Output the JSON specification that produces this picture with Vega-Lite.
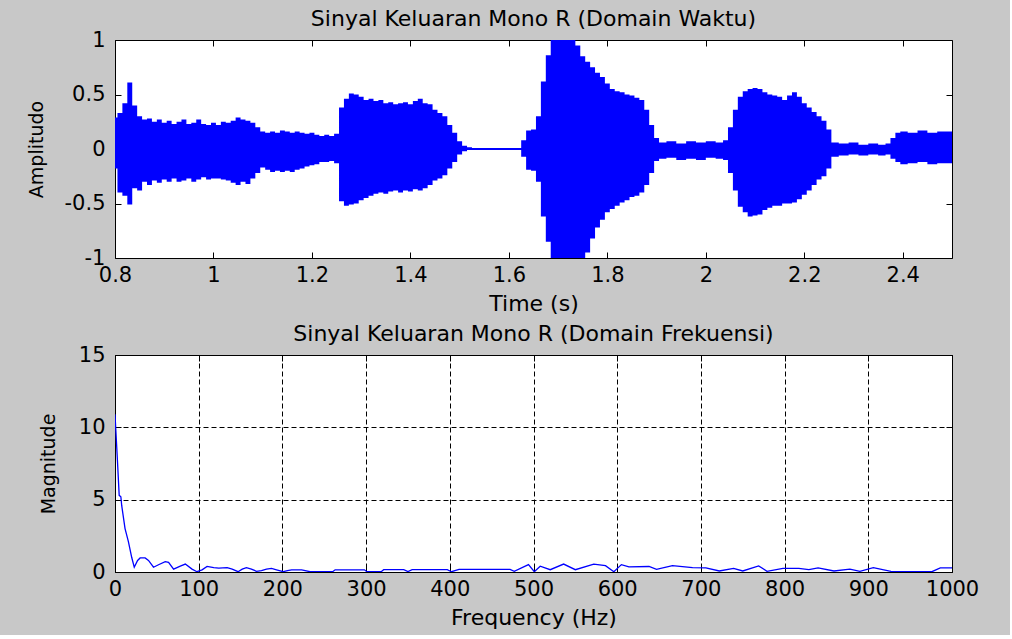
{
  "$schema": "https://vega.github.io/schema/vega-lite/v6.json",
  "background": "#c8c8c8",
  "padding": {"left": 26, "top": 7, "right": 30, "bottom": 6},
  "spacing": 7,
  "config": {
    "font": "DejaVu Sans",
    "view": {"fill": "white", "stroke": "black", "strokeWidth": 1},
    "axis": {
      "labelFont": "DejaVu Sans", "labelFontSize": 21, "labelColor": "black",
      "titleFont": "DejaVu Sans", "titleFontWeight": "normal", "titleColor": "black", "titleFontSize": 22,
      "tickColor": "black", "tickSize": -6, "tickWidth": 1, "domain": false, "grid": false,
      "labelFlush": false, "labelOverlap": false, "labelExpr": "datum.value + ''"
    },
    "title": {"font": "DejaVu Sans", "fontSize": 22, "fontWeight": "normal", "color": "black", "offset": -2}
  },
  "vconcat": [
    {
      "title": "Sinyal Keluaran Mono R (Domain Waktu)",
      "width": 837, "height": 218,
      "data": {"values": [
        {"t":0.80,"hi":0.29,"lo":-0.18},{"t":0.81,"hi":0.33,"lo":-0.40},{"t":0.82,"hi":0.42,"lo":-0.43},{"t":0.83,"hi":0.61,"lo":-0.51},
        {"t":0.84,"hi":0.40,"lo":-0.36},{"t":0.85,"hi":0.30,"lo":-0.38},{"t":0.86,"hi":0.27,"lo":-0.30},{"t":0.87,"hi":0.28,"lo":-0.33},
        {"t":0.88,"hi":0.25,"lo":-0.29},{"t":0.89,"hi":0.27,"lo":-0.31},{"t":0.90,"hi":0.24,"lo":-0.28},{"t":0.91,"hi":0.26,"lo":-0.30},
        {"t":0.92,"hi":0.23,"lo":-0.27},{"t":0.93,"hi":0.25,"lo":-0.30},{"t":0.94,"hi":0.27,"lo":-0.29},{"t":0.95,"hi":0.23,"lo":-0.27},
        {"t":0.96,"hi":0.24,"lo":-0.30},{"t":0.97,"hi":0.27,"lo":-0.28},{"t":0.98,"hi":0.23,"lo":-0.26},{"t":0.99,"hi":0.22,"lo":-0.28},
        {"t":1.00,"hi":0.24,"lo":-0.27},{"t":1.01,"hi":0.22,"lo":-0.27},{"t":1.02,"hi":0.25,"lo":-0.28},{"t":1.03,"hi":0.24,"lo":-0.29},
        {"t":1.04,"hi":0.26,"lo":-0.31},{"t":1.05,"hi":0.29,"lo":-0.33},{"t":1.06,"hi":0.27,"lo":-0.30},{"t":1.07,"hi":0.26,"lo":-0.32},
        {"t":1.08,"hi":0.24,"lo":-0.27},{"t":1.09,"hi":0.20,"lo":-0.22},{"t":1.10,"hi":0.16,"lo":-0.17},{"t":1.11,"hi":0.15,"lo":-0.19},
        {"t":1.12,"hi":0.16,"lo":-0.21},{"t":1.13,"hi":0.15,"lo":-0.20},{"t":1.14,"hi":0.17,"lo":-0.21},{"t":1.15,"hi":0.16,"lo":-0.20},
        {"t":1.16,"hi":0.15,"lo":-0.21},{"t":1.17,"hi":0.16,"lo":-0.19},{"t":1.18,"hi":0.15,"lo":-0.18},{"t":1.19,"hi":0.14,"lo":-0.16},
        {"t":1.20,"hi":0.15,"lo":-0.15},{"t":1.21,"hi":0.13,"lo":-0.14},{"t":1.22,"hi":0.12,"lo":-0.12},{"t":1.23,"hi":0.13,"lo":-0.12},
        {"t":1.24,"hi":0.12,"lo":-0.11},{"t":1.25,"hi":0.14,"lo":-0.13},{"t":1.26,"hi":0.38,"lo":-0.48},{"t":1.27,"hi":0.46,"lo":-0.52},
        {"t":1.28,"hi":0.51,"lo":-0.51},{"t":1.29,"hi":0.50,"lo":-0.50},{"t":1.30,"hi":0.48,"lo":-0.47},{"t":1.31,"hi":0.45,"lo":-0.45},
        {"t":1.32,"hi":0.46,"lo":-0.43},{"t":1.33,"hi":0.44,"lo":-0.41},{"t":1.34,"hi":0.45,"lo":-0.40},{"t":1.35,"hi":0.42,"lo":-0.41},
        {"t":1.36,"hi":0.43,"lo":-0.39},{"t":1.37,"hi":0.41,"lo":-0.38},{"t":1.38,"hi":0.42,"lo":-0.40},{"t":1.39,"hi":0.43,"lo":-0.38},
        {"t":1.40,"hi":0.41,"lo":-0.39},{"t":1.41,"hi":0.44,"lo":-0.37},{"t":1.42,"hi":0.46,"lo":-0.38},{"t":1.43,"hi":0.42,"lo":-0.36},
        {"t":1.44,"hi":0.41,"lo":-0.33},{"t":1.45,"hi":0.36,"lo":-0.29},{"t":1.46,"hi":0.33,"lo":-0.27},{"t":1.47,"hi":0.30,"lo":-0.24},
        {"t":1.48,"hi":0.22,"lo":-0.18},{"t":1.49,"hi":0.15,"lo":-0.12},{"t":1.50,"hi":0.07,"lo":-0.05},{"t":1.51,"hi":0.03,"lo":-0.02},
        {"t":1.52,"hi":0.015,"lo":-0.01},{"t":1.53,"hi":0.01,"lo":-0.01},{"t":1.56,"hi":0.01,"lo":-0.01},{"t":1.59,"hi":0.01,"lo":-0.01},
        {"t":1.62,"hi":0.01,"lo":-0.01},{"t":1.63,"hi":0.08,"lo":-0.07},{"t":1.64,"hi":0.17,"lo":-0.19},{"t":1.65,"hi":0.18,"lo":-0.20},
        {"t":1.66,"hi":0.30,"lo":-0.30},{"t":1.67,"hi":0.62,"lo":-0.62},{"t":1.68,"hi":0.86,"lo":-0.85},{"t":1.69,"hi":1.0,"lo":-1.0},
        {"t":1.70,"hi":1.0,"lo":-1.0},{"t":1.71,"hi":1.0,"lo":-1.0},{"t":1.72,"hi":1.0,"lo":-1.0},{"t":1.73,"hi":1.0,"lo":-1.0},
        {"t":1.74,"hi":0.95,"lo":-1.0},{"t":1.75,"hi":0.85,"lo":-1.0},{"t":1.76,"hi":0.80,"lo":-0.95},{"t":1.77,"hi":0.75,"lo":-0.82},
        {"t":1.78,"hi":0.70,"lo":-0.72},{"t":1.79,"hi":0.66,"lo":-0.65},{"t":1.80,"hi":0.60,"lo":-0.58},{"t":1.81,"hi":0.55,"lo":-0.55},
        {"t":1.82,"hi":0.53,"lo":-0.52},{"t":1.83,"hi":0.52,"lo":-0.49},{"t":1.84,"hi":0.50,"lo":-0.47},{"t":1.85,"hi":0.49,"lo":-0.44},
        {"t":1.86,"hi":0.47,"lo":-0.43},{"t":1.87,"hi":0.45,"lo":-0.40},{"t":1.88,"hi":0.36,"lo":-0.33},{"t":1.89,"hi":0.22,"lo":-0.22},
        {"t":1.90,"hi":0.10,"lo":-0.11},{"t":1.91,"hi":0.06,"lo":-0.09},{"t":1.93,"hi":0.07,"lo":-0.08},{"t":1.95,"hi":0.05,"lo":-0.10},
        {"t":1.97,"hi":0.07,"lo":-0.09},{"t":1.99,"hi":0.06,"lo":-0.10},{"t":2.01,"hi":0.07,"lo":-0.08},{"t":2.03,"hi":0.06,"lo":-0.09},
        {"t":2.04,"hi":0.08,"lo":-0.10},{"t":2.05,"hi":0.20,"lo":-0.22},{"t":2.06,"hi":0.36,"lo":-0.38},{"t":2.07,"hi":0.48,"lo":-0.53},
        {"t":2.08,"hi":0.53,"lo":-0.58},{"t":2.09,"hi":0.55,"lo":-0.62},{"t":2.10,"hi":0.56,"lo":-0.61},{"t":2.11,"hi":0.55,"lo":-0.60},
        {"t":2.12,"hi":0.52,"lo":-0.56},{"t":2.13,"hi":0.50,"lo":-0.54},{"t":2.14,"hi":0.49,"lo":-0.52},{"t":2.15,"hi":0.48,"lo":-0.52},
        {"t":2.16,"hi":0.45,"lo":-0.50},{"t":2.17,"hi":0.49,"lo":-0.50},{"t":2.18,"hi":0.52,"lo":-0.49},{"t":2.19,"hi":0.48,"lo":-0.46},
        {"t":2.20,"hi":0.42,"lo":-0.42},{"t":2.21,"hi":0.38,"lo":-0.38},{"t":2.22,"hi":0.34,"lo":-0.33},{"t":2.23,"hi":0.30,"lo":-0.28},
        {"t":2.24,"hi":0.26,"lo":-0.25},{"t":2.25,"hi":0.18,"lo":-0.18},{"t":2.26,"hi":0.06,"lo":-0.07},{"t":2.28,"hi":0.05,"lo":-0.06},
        {"t":2.30,"hi":0.06,"lo":-0.05},{"t":2.32,"hi":0.04,"lo":-0.06},{"t":2.34,"hi":0.05,"lo":-0.05},{"t":2.36,"hi":0.04,"lo":-0.06},
        {"t":2.37,"hi":0.05,"lo":-0.05},{"t":2.38,"hi":0.10,"lo":-0.09},{"t":2.39,"hi":0.15,"lo":-0.12},{"t":2.40,"hi":0.16,"lo":-0.14},
        {"t":2.42,"hi":0.15,"lo":-0.13},{"t":2.44,"hi":0.17,"lo":-0.12},{"t":2.46,"hi":0.15,"lo":-0.14},{"t":2.48,"hi":0.16,"lo":-0.13},
        {"t":2.50,"hi":0.16,"lo":-0.13}
      ]},
      "layer": [
        {
          "mark": {"type": "area", "color": "#0000ff", "interpolate": "step", "clip": true},
          "encoding": {
            "x": {"field": "t", "type": "quantitative", "scale": {"domain": [0.8, 2.5], "nice": false, "zero": false},
                  "axis": {"orient": "bottom", "values": [0.8, 1, 1.2, 1.4, 1.6, 1.8, 2, 2.2, 2.4], "title": "Time (s)", "labelPadding": 12, "titlePadding": 8}},
            "y": {"field": "hi", "type": "quantitative", "scale": {"domain": [-1, 1], "nice": false},
                  "axis": {"orient": "left", "values": [-1, -0.5, 0, 0.5, 1], "title": "Amplitudo", "titleFontSize": 19, "labelPadding": 16, "titlePadding": 18}},
            "y2": {"field": "lo"}
          }
        },
        {
          "mark": {"type": "area", "opacity": 0},
          "encoding": {
            "x": {"field": "t", "type": "quantitative", "scale": {"domain": [0.8, 2.5], "nice": false, "zero": false},
                  "axis": {"orient": "top", "values": [0.8, 1, 1.2, 1.4, 1.6, 1.8, 2, 2.2, 2.4], "labels": false, "title": null}},
            "y": {"field": "hi", "type": "quantitative", "scale": {"domain": [-1, 1], "nice": false},
                  "axis": {"orient": "right", "values": [-1, -0.5, 0, 0.5, 1], "labels": false, "title": null}},
            "y2": {"field": "lo"}
          }
        }
      ],
      "resolve": {"axis": {"x": "independent", "y": "independent"}}
    },
    {
      "title": "Sinyal Keluaran Mono R (Domain Frekuensi)",
      "width": 837, "height": 217,
      "data": {"values": [
        {"f":0,"m":10.9},{"f":1,"m":9.8},{"f":3,"m":7.6},{"f":5,"m":5.3},{"f":7,"m":5.2},{"f":8,"m":4.6},{"f":12,"m":3.0},
        {"f":16,"m":2.1},{"f":20,"m":1.0},{"f":23,"m":0.33},{"f":27,"m":0.8},{"f":30,"m":0.97},{"f":36,"m":0.97},{"f":40,"m":0.8},
        {"f":46,"m":0.33},{"f":52,"m":0.5},{"f":60,"m":0.71},{"f":64,"m":0.66},{"f":70,"m":0.2},{"f":78,"m":0.4},{"f":84,"m":0.55},
        {"f":92,"m":0.2},{"f":98,"m":0.02},{"f":104,"m":0.15},{"f":110,"m":0.39},{"f":118,"m":0.3},{"f":124,"m":0.27},{"f":134,"m":0.3},
        {"f":140,"m":0.2},{"f":147,"m":0.02},{"f":152,"m":0.2},{"f":157,"m":0.3},{"f":163,"m":0.2},{"f":169,"m":0.05},{"f":175,"m":0.1},
        {"f":181,"m":0.2},{"f":187,"m":0.25},{"f":193,"m":0.15},{"f":201,"m":0.02},{"f":206,"m":0.1},{"f":211,"m":0.15},{"f":223,"m":0.15},
        {"f":233,"m":0.02},{"f":260,"m":0.02},{"f":263,"m":0.15},{"f":298,"m":0.15},{"f":301,"m":0.02},{"f":318,"m":0.02},{"f":321,"m":0.16},
        {"f":345,"m":0.16},{"f":350,"m":0.03},{"f":355,"m":0.16},{"f":397,"m":0.16},{"f":402,"m":0.02},{"f":411,"m":0.18},{"f":472,"m":0.18},
        {"f":477,"m":0.05},{"f":494,"m":0.51},{"f":501,"m":0.02},{"f":508,"m":0.4},{"f":520,"m":0.16},{"f":536,"m":0.55},{"f":550,"m":0.16},
        {"f":572,"m":0.55},{"f":586,"m":0.44},{"f":596,"m":0.02},{"f":605,"m":0.51},{"f":614,"m":0.36},{"f":638,"m":0.38},{"f":647,"m":0.18},
        {"f":666,"m":0.44},{"f":690,"m":0.3},{"f":706,"m":0.28},{"f":722,"m":0.07},{"f":739,"m":0.25},{"f":750,"m":0.07},{"f":769,"m":0.42},
        {"f":779,"m":0.05},{"f":798,"m":0.25},{"f":817,"m":0.25},{"f":829,"m":0.16},{"f":840,"m":0.28},{"f":859,"m":0.07},{"f":878,"m":0.2},
        {"f":890,"m":0.05},{"f":906,"m":0.3},{"f":927,"m":0.05},{"f":948,"m":0.02},{"f":976,"m":0.02},{"f":986,"m":0.28},{"f":1000,"m":0.28}
      ]},
      "layer": [
        {
          "mark": {"type": "line", "color": "#0000ff", "strokeWidth": 1.3, "clip": true},
          "encoding": {
            "x": {"field": "f", "type": "quantitative", "scale": {"domain": [0, 1000], "nice": false},
                  "axis": {"orient": "bottom", "values": [0,100,200,300,400,500,600,700,800,900,1000], "title": "Frequency (Hz)", "labelPadding": 12, "titlePadding": 8,
                           "grid": true, "gridColor": "black", "gridDash": [5, 3], "gridOpacity": 1, "gridWidth": 1}},
            "y": {"field": "m", "type": "quantitative", "scale": {"domain": [0, 15], "nice": false},
                  "axis": {"orient": "left", "values": [0, 5, 10, 15], "title": "Magnitude", "titleFontSize": 19, "labelPadding": 16, "titlePadding": 20,
                           "grid": true, "gridColor": "black", "gridDash": [5, 3], "gridOpacity": 1, "gridWidth": 1}}
          }
        },
        {
          "mark": {"type": "line", "opacity": 0},
          "encoding": {
            "x": {"field": "f", "type": "quantitative", "scale": {"domain": [0, 1000], "nice": false},
                  "axis": {"orient": "top", "values": [0,100,200,300,400,500,600,700,800,900,1000], "labels": false, "title": null}},
            "y": {"field": "m", "type": "quantitative", "scale": {"domain": [0, 15], "nice": false},
                  "axis": {"orient": "right", "values": [0, 5, 10, 15], "labels": false, "title": null}}
          }
        }
      ],
      "resolve": {"axis": {"x": "independent", "y": "independent"}}
    }
  ]
}
